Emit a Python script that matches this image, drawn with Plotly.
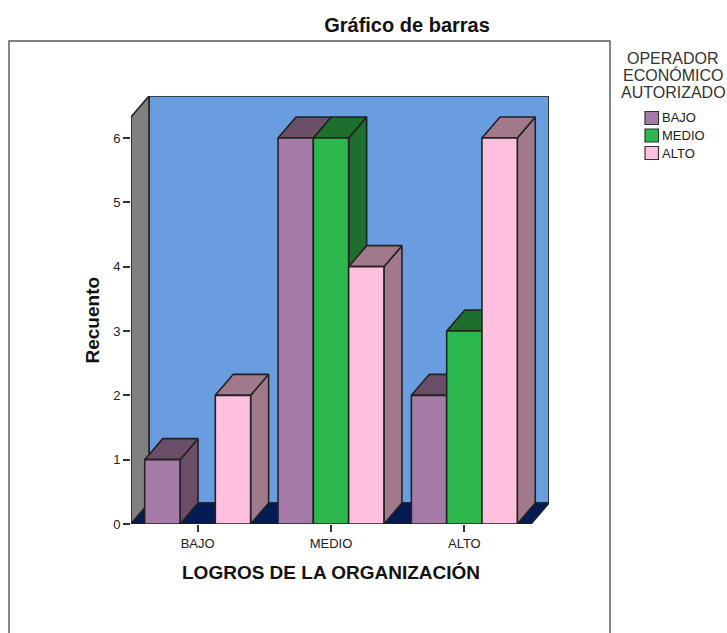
import plotly.graph_objects as go

categories = ["BAJO", "MEDIO", "ALTO"]
series_names = ["BAJO", "MEDIO", "ALTO"]
values_bajo = [1, 6, 2]
values_medio = [0, 6, 3]
values_alto = [2, 4, 6]
series_values = [values_bajo, values_medio, values_alto]
y_ticks = [0, 1, 2, 3, 4, 5, 6]
legend_title_lines = ["OPERADOR", "ECONÓMICO", "AUTORIZADO"]

front_colors = ["#A77BA7", "#2DB84D", "#FFC0E0"]
dark_colors = ["#6B4F69", "#1E6E2E", "#A07A8A"]
EDGE = "#222222"
FONT = "Liberation Sans, Arial, sans-serif"

W, H = 727, 633
L, R, T, B = 131, 549, 96, 524   # plot-area pixels
PX_X = 400 / 3                   # pixels per category
PX_Y = 386 / 6                   # pixels per count
DX = 18 / PX_X                   # depth in x units
DY = 21 / PX_Y                   # depth in y units
X_MAX = (R - L) / PX_X
Y_MAX = (B - T) / PX_Y
BAR_W = 35.3 / PX_X


def polygons(rings):
    xs, ys = [], []
    for ring in rings:
        for px_, py_ in ring + ring[:1]:
            xs.append(px_)
            ys.append(py_)
        xs.append(None)
        ys.append(None)
    return xs, ys


def poly_trace(rings, fill, name, width=1.6, line=EDGE):
    xs, ys = polygons(rings)
    return go.Scatter(x=xs, y=ys, mode="lines", fill="toself", fillcolor=fill, name=name,
                      line=dict(color=line, width=width), showlegend=False,
                      hoverinfo="skip", cliponaxis=False)


fig = go.Figure()

wall_top = Y_MAX - DY
n = len(categories)
fig.add_trace(poly_trace([[(DX, DY), (n + DX, DY), (n + DX, Y_MAX), (DX, Y_MAX)]], "#6A9DDF", "pared"))
fig.add_trace(poly_trace([[(0, 0), (DX, DY), (DX, Y_MAX), (0, wall_top)]], "#808080", "lateral"))
fig.add_trace(poly_trace([[(0, 0), (n, 0), (n + DX, DY), (DX, DY)]], "#041A52", "suelo"))

for s, vals in enumerate(series_values):
    sides, tops, fronts = [], [], []
    for c, v in enumerate(vals):
        if v <= 0:
            continue
        x0 = c + 0.5 + (s - 1.5) * BAR_W
        x1 = x0 + BAR_W
        fronts.append([(x0, 0), (x1, 0), (x1, v), (x0, v)])
        sides.append([(x1, 0), (x1 + DX, DY), (x1 + DX, v + DY), (x1, v)])
        tops.append([(x0, v), (x1, v), (x1 + DX, v + DY), (x0 + DX, v + DY)])
    fig.add_trace(poly_trace(sides, dark_colors[s], series_names[s]))
    fig.add_trace(poly_trace(tops, dark_colors[s], series_names[s]))
    fig.add_trace(poly_trace(fronts, front_colors[s], series_names[s]))


def px(x):
    return (x - L) / (R - L)


def py(y):
    return (B - y) / (B - T)


shapes = [dict(type="path", xref="paper", yref="paper",
               path=f"M {px(9)} {py(640)} L {px(9)} {py(41)} L {px(610)} {py(41)} L {px(610)} {py(640)}",
               line=dict(color="#555555", width=1.4))]
annotations = [
    dict(text="<b>LOGROS DE LA ORGANIZACIÓN</b>", xref="paper", yref="paper",
         x=px(331), y=py(572), showarrow=False, xanchor="center", yanchor="middle",
         font=dict(size=19, color="#111111")),
    dict(text="<b>Recuento</b>", xref="paper", yref="paper", x=px(91.5), y=py(320),
         showarrow=False, textangle=-90, xanchor="center", yanchor="middle",
         font=dict(size=19, color="#111111")),
]
for i, line_text in enumerate(legend_title_lines):
    annotations.append(dict(text=line_text, xref="paper", yref="paper", x=px(673), y=py(58 + 17 * i),
                            showarrow=False, xanchor="center", yanchor="middle",
                            font=dict(size=16, color="#333333")))
for i, (name, color) in enumerate(zip(series_names, front_colors)):
    yc = 118 + 17.5 * i
    shapes.append(dict(type="rect", xref="paper", yref="paper", x0=px(645), x1=px(658.5),
                       y0=py(yc - 6.5), y1=py(yc + 6.5), fillcolor=color,
                       line=dict(color="#333333", width=1.2)))
    annotations.append(dict(text=name, xref="paper", yref="paper", x=px(660), y=py(yc),
                            showarrow=False, xanchor="left", yanchor="middle",
                            font=dict(size=13, color="#222222")))

fig.update_layout(
    width=W, height=H,
    margin=dict(l=L, r=W - R, t=T, b=H - B, pad=0),
    paper_bgcolor="white", plot_bgcolor="white",
    showlegend=False,
    font=dict(family=FONT, color="#222222", size=13),
    title=dict(text="<b>Gráfico de barras</b>", x=407 / W, xanchor="center",
               xref="container", y=1 - 25 / H, yanchor="middle",
               font=dict(size=20, color="#111111", family=FONT)),
    xaxis=dict(range=[0, X_MAX], tickmode="array",
               tickvals=[i + 0.5 for i in range(n)], ticktext=categories,
               ticks="outside", ticklen=7, tickwidth=1.5, tickcolor="#333333", showgrid=False,
               zeroline=False, showline=False, tickfont=dict(size=13)),
    yaxis=dict(range=[0, Y_MAX], tickmode="array", tickvals=y_ticks,
               ticks="outside", ticklen=7, tickwidth=1.5, tickcolor="#333333", showgrid=False,
               zeroline=False, showline=False, tickfont=dict(size=13)),
    shapes=shapes,
    annotations=annotations,
)

fig.write_html("out.html", config={"displayModeBar": False},
               post_script='document.body.style.margin="0";')
